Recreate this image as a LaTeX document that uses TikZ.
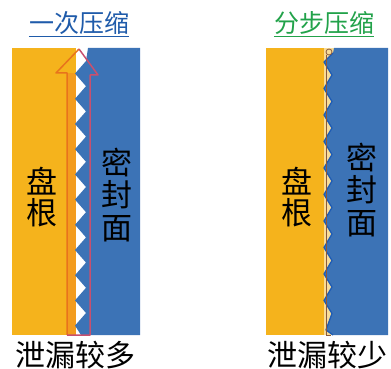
\documentclass[tikz,border=0pt]{standalone}
\usepackage{fontspec}
\newfontfamily\cjk{Noto Sans CJK SC}
\definecolor{packyel}{HTML}{F5B31C}
\definecolor{packorg}{HTML}{F39C1E}
\definecolor{sealblue}{HTML}{3C73B6}
\definecolor{edgeblue}{HTML}{1F5CB4}
\definecolor{titleblue}{HTML}{1F5BAA}
\definecolor{titlegreen}{HTML}{22A24A}
\definecolor{arroworg}{HTML}{E8731C}
\definecolor{arrowred}{HTML}{C8506E}
\definecolor{bumpyel}{HTML}{F9DC96}
\definecolor{wirebrown}{HTML}{8A5A3C}
\tikzset{
  title/.style={font=\cjk\fontsize{25}{25}\selectfont, inner sep=0pt},
  vlabel/.style={font=\cjk\fontsize{31}{31}\selectfont, align=center, inner sep=0pt},
  seallabel/.style={font=\cjk\fontsize{31}{32.5}\selectfont, align=center, inner sep=0pt},
  blabel/.style={font=\cjk\fontsize{30}{30}\selectfont, inner sep=0pt},
}
\begin{document}
\begin{tikzpicture}[x=1pt,y=-1pt]
	\useasboundingbox (0,0) rectangle (391,369);

	% headings
	\node[title, text=titleblue] (once) at (79,23) {一次压缩};
	\draw[titleblue, line width=1.3pt] ([yshift=-4pt]once.base west) -- ([yshift=-4pt]once.base east);
	\node[title, text=titlegreen] (steps) at (324,23) {分步压缩};
	\draw[titlegreen, line width=1.3pt] ([yshift=-4pt]steps.base west) -- ([yshift=-4pt]steps.base east);

	% left: packing, seal face with coarse teeth
	\fill[packyel] (12,48) rectangle (76,335);
	\fill[packorg] (67,73) rectangle (76,335);
	\fill[sealblue] (140,48) -- (88,48) -- (86,61)
		\foreach \k in {0,...,9} { -- (75,{73.6+25.2*\k}) -- (86,{86.2+25.2*\k}) }
		-- (75,325.6) -- (81,335) -- (140,335) -- cycle;

	% leak path (hollow arrow)
	\draw[arroworg, line width=1.5pt, line join=round] (67,335) -- (67,73) -- (56,73) -- (79,49);
	\draw[arrowred, line width=1.5pt, line join=round] (79,49) -- (98,75) -- (90,75) -- (90,335) -- (67,335);

	\node[vlabel] (pack1) at (42,197) {盘\\根};
	\node[seallabel] (seal1) at (117,195) {密\\封\\面};
	\node[blabel] (more) at (76,355) {泄漏较多};

	% right: packing, seal face with fine teeth
	\fill[packyel] (266,48) rectangle (325,335);
	\fill[bumpyel] (324,48) rectangle (334,335);
	\fill[sealblue] (388,48) -- (334,48) -- (333,53)
		\foreach \k in {0,...,9} { -- (324,{62+26.5*\k}) -- (332,{75+26.5*\k}) }
		-- (326,330) -- (333,335) -- (388,335) -- cycle;
	\draw[edgeblue, line width=1.3pt, line join=round] (333,53)
		\foreach \k in {0,...,9} { -- (324,{62+26.5*\k}) -- (332,{75+26.5*\k}) }
		-- (326,330) -- (333,335);

	% thin leak path
	\draw[wirebrown, line width=0.8pt] (326,55) -- (326,335) -- (331,335);
	\draw[wirebrown, line width=0.8pt] (329,52) circle (3);

	\node[vlabel] (pack2) at (297,197) {盘\\根};
	\node[seallabel] (seal2) at (362,190) {密\\封\\面};
	\node[blabel] (less) at (327,355) {泄漏较少};
\end{tikzpicture}
\end{document}
